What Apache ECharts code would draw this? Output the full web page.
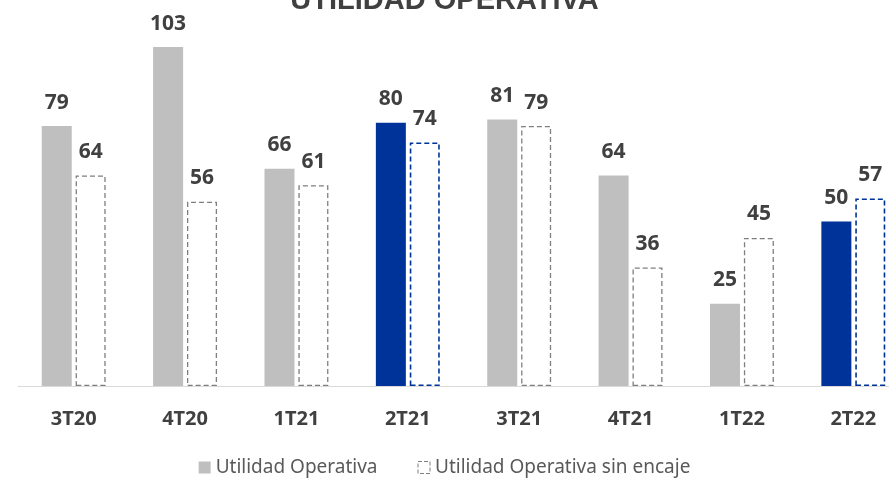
<!DOCTYPE html>
<html lang="es">
  <head>
    <meta charset="UTF-8" />
    <title>Utilidad Operativa</title>
    <script src="https://cdn.jsdelivr.net/npm/echarts@6.0.0/dist/echarts.min.js"></script>
    <style>
      html, body { margin: 0; padding: 0; background: #fff; }
    </style>
  </head>
  <body>
    <div id="main" style="width: 889px; height: 480px"></div>
    <script type="text/javascript">
      // datos
      var categories = ["3T20", "4T20", "1T21", "2T21", "3T21", "4T21", "1T22", "2T22"];
      var utilidad = [79, 103, 66, 80, 81, 64, 25, 50];
      var sinEncaje = [64, 56, 61, 74, 79, 36, 45, 57];
      var destacados = ["2T21", "2T22"];

      var gris = "#bfbfbf";
      var azul = "#003399";
      var bordeGris = "#7f7f7f";

      var myChart = echarts.init(document.getElementById("main"));

      var labelStyle = {
        show: true,
        position: "top",
        distance: 13,
        fontFamily: "Noto Sans",
        fontWeight: "bold",
        fontSize: 21,
        color: "#404040",
      };

      var option = {
        title: {
          text: "UTILIDAD OPERATIVA",
          left: "center",
          top: -19,
          textStyle: {
            fontFamily: "Liberation Sans",
            fontWeight: "bold",
            fontSize: 29,
            color: "#404040",
          },
        },
        legend: {
          bottom: -2,
          left: "center",
          itemWidth: 12,
          itemHeight: 12,
          itemGap: 40,
          textStyle: {
            fontFamily: "Noto Sans",
            fontSize: 19,
            color: "#595959",
          },
          data: [
            { name: "Utilidad Operativa", icon: "rect", itemStyle: { color: gris } },
            {
              name: "Utilidad Operativa sin encaje",
              icon: "rect",
              itemStyle: { color: "#fff", borderColor: bordeGris, borderWidth: 1, borderType: "dashed" },
            },
          ],
        },
        grid: {
          left: 18,
          width: 891,
          top: 24,
          bottom: 94,
          outerBoundsMode: "none",
          containLabel: false,
        },
        xAxis: {
          type: "category",
          data: categories,
          axisTick: { show: false },
          axisLine: { lineStyle: { color: "#d9d9d9", width: 1 } },
          axisLabel: {
            margin: 23,
            fontFamily: "Noto Sans",
            fontWeight: "bold",
            fontSize: 20,
            color: "#404040",
          },
        },
        yAxis: {
          type: "value",
          min: 0,
          max: 110,
          show: false,
          splitLine: { show: false },
        },
        series: [
          {
            name: "Utilidad Operativa",
            type: "bar",
            barWidth: 30,
            barGap: "13%",
            label: labelStyle,
            itemStyle: { color: gris },
            data: utilidad.map(function (v, i) {
              var hl = destacados.indexOf(categories[i]) >= 0;
              return { value: v, itemStyle: { color: hl ? azul : gris } };
            }),
          },
          {
            name: "Utilidad Operativa sin encaje",
            type: "bar",
            barWidth: 30,
            label: labelStyle,
            itemStyle: { color: "#fff", borderColor: bordeGris, borderWidth: 1.3, borderType: [5, 3] },
            data: sinEncaje.map(function (v, i) {
              var hl = destacados.indexOf(categories[i]) >= 0;
              return {
                value: v,
                itemStyle: {
                  color: "#fff",
                  borderColor: hl ? azul : bordeGris,
                  borderWidth: hl ? 1.6 : 1.3,
                  borderType: [5, 3],
                },
              };
            }),
          },
        ],
      };
      myChart.setOption(option);
    </script>
  </body>
</html>
